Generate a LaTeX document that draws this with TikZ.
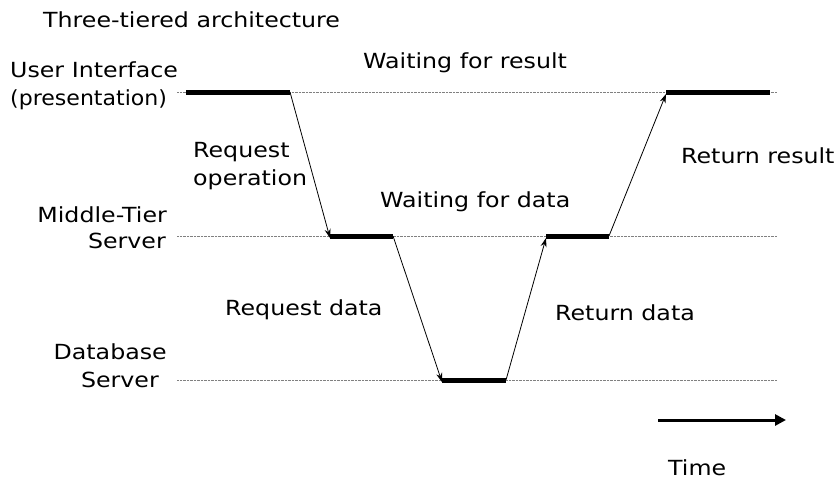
\documentclass[tikz,border=0pt]{standalone}
\usepackage{fontspec}
\setmainfont{DejaVu Sans}[FakeStretch=1.14]
\usetikzlibrary{arrows.meta}
\begin{document}
\begin{tikzpicture}[x=1pt,y=-1pt,
  lbl/.style={font=\fontsize{20.8}{24}\selectfont, inner sep=0pt},
  guide/.style={gray, line width=0.7pt, dash pattern=on 0.7pt off 0.7pt},
  busy/.style={line width=5pt},
  msg/.style={line width=0.8pt, -{Stealth[length=9pt,width=6pt]}},
  clock/.style={line width=3pt, -{Triangle[length=11pt,width=11pt]}},
]
\useasboundingbox (0,0) rectangle (834,479);

% tier labels
\node[lbl, anchor=base west] (title) at (43,27) {Three-tiered architecture};
\node[lbl, anchor=base west] (ui1) at (10,77) {User Interface};
\node[lbl, anchor=base west] (ui2) at (10,105) {\scalebox{0.93}[1]{(presentation)}};
\node[lbl, anchor=base east] (mt1) at (167,222) {Middle-Tier};
\node[lbl, anchor=base east] (mt2) at (166,248) {Server};
\node[lbl, anchor=base east] (db1) at (167,359) {Database};
\node[lbl, anchor=base east] (db2) at (159,387) {Server};

% time lines of the three tiers
\coordinate (uiS) at (177,92);  \coordinate (uiE) at (777,92);
\coordinate (mtS) at (177,236); \coordinate (mtE) at (777,236);
\coordinate (dbS) at (177,380); \coordinate (dbE) at (777,380);
\draw[guide] (uiS) -- (uiE);
\draw[guide] (mtS) -- (mtE);
\draw[guide] (dbS) -- (dbE);

% busy periods
\coordinate (u1a) at (186,92);  \coordinate (u1b) at (290,92);
\coordinate (m1a) at (330,236); \coordinate (m1b) at (393,236);
\coordinate (d1a) at (442,380); \coordinate (d1b) at (506,380);
\coordinate (m2a) at (546,236); \coordinate (m2b) at (609,236);
\coordinate (u2a) at (666,92);  \coordinate (u2b) at (770,92);
\draw[busy] (u1a) -- (u1b);
\draw[busy] (m1a) -- (m1b);
\draw[busy] (d1a) -- (d1b);
\draw[busy] (m2a) -- (m2b);
\draw[busy] (u2a) -- (u2b);

% messages between tiers
\draw[msg] (u1b) -- ([yshift=-2pt]m1a);
\draw[msg] (m1b) -- ([yshift=-2pt]d1a);
\draw[msg] (d1b) -- ([yshift=-2pt]m2a);
\draw[msg] (m2b) -- ([yshift=-2pt]u2a);

% message and waiting labels
\node[lbl, anchor=base west] (wres) at (363,68) {Waiting for result};
\node[lbl, anchor=base west] (req1) at (193,157) {Request};
\node[lbl, anchor=base west] (req2) at (193,185) {operation};
\node[lbl, anchor=base west] (ret) at (681,163) {Return result};
\node[lbl, anchor=base west] (wdat) at (380,207) {Waiting for data};
\node[lbl, anchor=base west] (rqd) at (225,315) {Request data};
\node[lbl, anchor=base west] (rtd) at (555,320) {Return data};

% time axis
\coordinate (t0) at (658,420);
\coordinate (t1) at (786,420);
\draw[clock] (t0) -- (t1);
\node[lbl, anchor=base west] (time) at (668,475) {Time};
\end{tikzpicture}
\end{document}
